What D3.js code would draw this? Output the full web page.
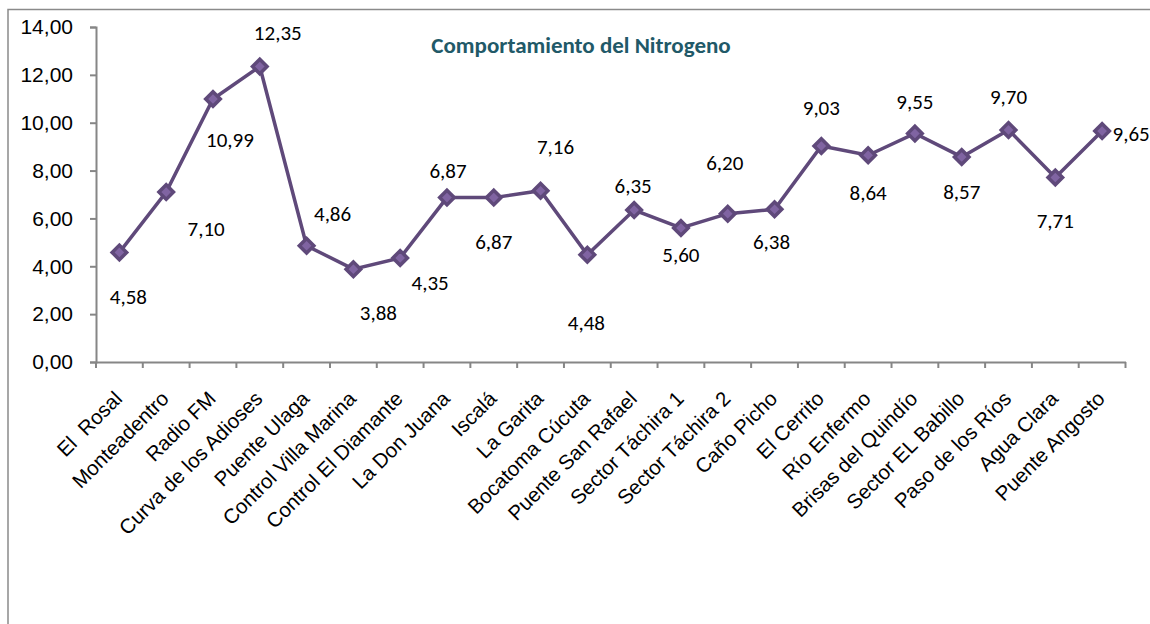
<!DOCTYPE html>
<meta charset="utf-8">
<style>
body { margin: 0; background: #fff; }
.tick text { font-family: "Liberation Sans", Arial, sans-serif; fill: #000; }
.line { fill: none; stroke: #5f497a; stroke-width: 3.5px; }
.xlab { white-space: pre; }
</style>
<body>
<script src="https://d3js.org/d3.v7.min.js"></script>
<script>

// data
var sites = ["El  Rosal", "Monteadentro", "Radio FM", "Curva de los Adioses", "Puente Ulaga",
  "Control Villa Marina", "Control El Diamante", "La Don Juana", "Iscalá", "La Garita",
  "Bocatoma Cúcuta", "Puente San Rafael", "Sector Táchira 1", "Sector Táchira 2", "Caño Picho",
  "El Cerrito", "Río Enfermo", "Brisas del Quindío", "Sector EL Babillo", "Paso de los Ríos",
  "Agua Clara", "Puente Angosto"];
var nitrogeno = [4.58, 7.10, 10.99, 12.35, 4.86, 3.88, 4.35, 6.87, 6.87, 7.16, 4.48,
  6.35, 5.60, 6.20, 6.38, 9.03, 8.64, 9.55, 8.57, 9.70, 7.71, 9.65];
var yTicks = [0, 2, 4, 6, 8, 10, 12, 14];

// label offsets (px from the marker) as placed in the original chart
var labelOffset = [[9, 44], [40, 37], [17, 41], [18, -34], [26, -32], [25, 43], [30, 25], [1, -27],
  [0, 44], [15, -44], [-1, 68], [-1, -24], [0, 27], [-3, -51], [-3, 32], [0, -38], [0, 37],
  [0, -32], [0, 35], [0, -33], [0, 43], [29, 3]];

var margin = {top: 27, left: 96},
    width = 1125.5 - 96,
    height = 362 - 27;

var svg = d3.select("body").append("svg")
    .attr("width", 1150)
    .attr("height", 624);

// chart border
svg.append("path")
    .attr("d", "M8,630V9.5H1160")
    .attr("fill", "none")
    .attr("stroke", "#8a8a8a")
    .attr("stroke-width", 1.5);

var g = svg.append("g")
    .attr("transform", "translate(" + margin.left + "," + margin.top + ")");

var x = d3.scaleBand().domain(sites).range([0, width]);
var y = d3.scaleLinear().domain([0, 14]).range([height, 0]);

// y axis
var yAxis = g.append("g")
    .call(d3.axisLeft(y).tickValues(yTicks).tickSize(6).tickPadding(17)
      .tickFormat(function(d) { return d3.format(".2f")(d).replace(".", ","); }));
yAxis.selectAll("text").style("font-size", "21px");

// x axis
var xAxis = g.append("g")
    .attr("transform", "translate(0," + height + ")")
    .call(d3.axisBottom(x).tickSize(0).tickFormat(""));
// boundary ticks between categories
xAxis.selectAll(".bt")
    .data(d3.range(sites.length + 1))
  .enter().append("line")
    .attr("x1", function(i) { return i * x.bandwidth(); })
    .attr("x2", function(i) { return i * x.bandwidth(); })
    .attr("y1", 0).attr("y2", 6)
    .attr("stroke", "#868686").attr("stroke-width", 2);

g.selectAll(".domain").attr("stroke", "#868686").attr("stroke-width", 2);
yAxis.selectAll(".tick line").attr("stroke", "#868686").attr("stroke-width", 2);

// category labels
g.selectAll(".xlab")
    .data(sites)
  .enter().append("text")
    .attr("class", "xlab")
    .attr("transform", function(d) {
      return "translate(" + (x(d) + x.bandwidth() / 2 + 4) + "," + (height + 38) + ") rotate(-45)";
    })
    .attr("text-anchor", "end")
    .style("font-family", "'Liberation Sans', Arial, sans-serif")
    .style("font-size", "20.5px")
    .text(function(d) { return d; });

// line
var line = d3.line()
    .x(function(d, i) { return x(sites[i]) + x.bandwidth() / 2; })
    .y(function(d) { return y(d); });

g.append("path")
    .datum(nitrogeno)
    .attr("class", "line")
    .attr("d", line);

// markers
g.selectAll(".pt")
    .data(nitrogeno)
  .enter().append("path")
    .attr("class", "pt")
    .attr("d", d3.symbol().type(d3.symbolDiamond2).size(135))
    .attr("transform", function(d, i) {
      return "translate(" + (x(sites[i]) + x.bandwidth() / 2) + "," + y(d) + ")";
    })
    .attr("fill", "#8064a2")
    .attr("stroke", "#5f497a")
    .attr("stroke-width", 3.5);

// data labels
g.selectAll(".lab")
    .data(nitrogeno)
  .enter().append("text")
    .attr("class", "lab")
    .attr("x", function(d, i) { return x(sites[i]) + x.bandwidth() / 2 + labelOffset[i][0]; })
    .attr("y", function(d, i) { return y(d) + labelOffset[i][1]; })
    .attr("text-anchor", "middle")
    .attr("dy", "0.35em")
    .style("font-family", "Carlito, Calibri, Lato, sans-serif")
    .style("font-size", "21px")
    .text(function(d) { return d3.format(".2f")(d).replace(".", ","); });

// title
svg.append("text")
    .attr("x", 581)
    .attr("y", 53)
    .attr("text-anchor", "middle")
    .style("font-family", "Carlito, Calibri, Lato, sans-serif")
    .style("font-weight", "bold")
    .style("font-size", "23px")
    .style("fill", "#215968")
    .text("Comportamiento del Nitrogeno");

</script>
</body>
